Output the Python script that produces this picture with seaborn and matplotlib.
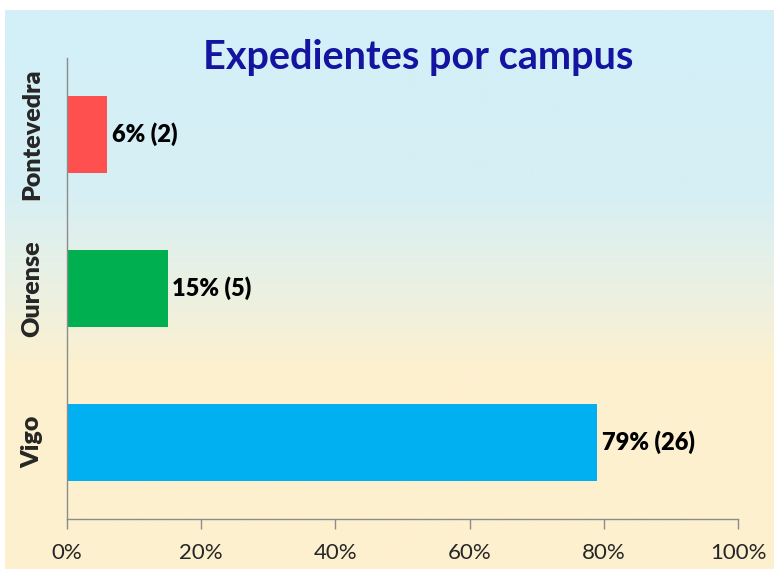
import numpy as np
import pandas as pd
import seaborn as sns
import matplotlib.pyplot as plt
from matplotlib.colors import LinearSegmentedColormap
from matplotlib.ticker import FuncFormatter

# data
campus = ['Pontevedra', 'Ourense', 'Vigo']
percent = [6, 15, 79]
counts = [2, 5, 26]
bar_colors = ['#FF5050', '#00B050', '#00B0F0']

df = pd.DataFrame({'Campus': campus, 'Percent': percent})

sns.set_theme(style='white')
plt.rcParams['font.family'] = ['Lato', 'DejaVu Sans']

fig = plt.figure(figsize=[7.74, 5.69], dpi=100)

# gradient background (blue at top, beige at bottom)
bg = fig.add_axes([5 / 774, 0, 1 - 5 / 774, 559 / 569], zorder=0)
cmap = LinearSegmentedColormap.from_list(
    'bg', [(0, '#D3EFF8'), (0.32, '#D6EFF5'), (0.5, '#EBF1E2'),
           (0.64, '#FDF0CF'), (1, '#FDF0CF')])
grad = np.linspace(0, 1, 256).reshape(-1, 1)
bg.imshow(grad, aspect='auto', cmap=cmap, extent=[0, 1, 0, 1])
bg.axis('off')

ax = fig.add_axes([67 / 774, 1 - 519 / 569, (738 - 67) / 774, (519 - 57.5) / 569], zorder=1)
ax.patch.set_alpha(0)

sns.barplot(data=df, x='Percent', y='Campus', hue='Campus', palette=bar_colors,
            width=0.5, legend=False, saturation=1, linewidth=0, ax=ax)

for i, (p, c) in enumerate(zip(percent, counts)):
    ax.text(p + 0.7, i, '%d%% (%d)' % (p, c), va='center', ha='left',
            fontsize=17, fontweight='heavy', color='black')

ax.set_xlim(0, 100)
ax.set_ylim(2.5, -0.5)
ax.set_xticks([0, 20, 40, 60, 80, 100])
ax.xaxis.set_major_formatter(FuncFormatter(lambda v, _: '%d%%' % v))
ax.set_xlabel('')
ax.set_ylabel('')
ax.tick_params(axis='x', direction='out', length=7, width=1, color='#8C8C8C',
               labelsize=16, pad=10, bottom=True)
ax.tick_params(axis='y', length=0, pad=17, labelsize=18)
for lbl in ax.get_yticklabels():
    lbl.set_rotation(90)
    lbl.set_va('center')
    lbl.set_fontweight('heavy')

sns.despine(ax=ax)
for s in ['left', 'bottom']:
    ax.spines[s].set_color('#8C8C8C')
    ax.spines[s].set_linewidth(1)

fig.text(418 / 774, 1 - 57 / 569, 'Expedientes por campus', ha='center', va='center',
         fontsize=28.5, fontweight='bold', color='#1414A0')

fig.savefig('out.png', dpi=100)
